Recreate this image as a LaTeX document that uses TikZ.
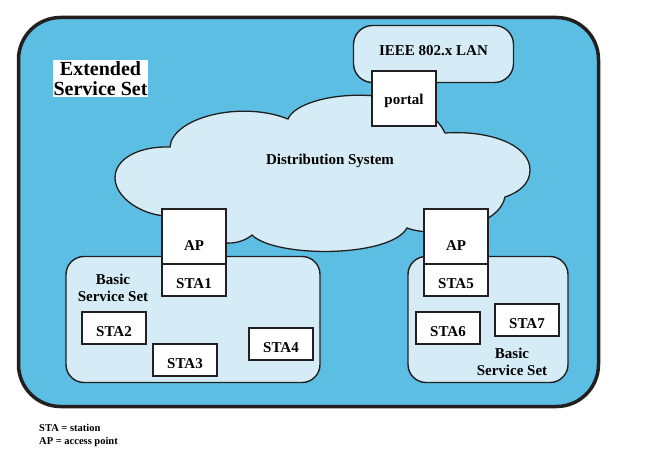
\documentclass[tikz,border=0pt]{standalone}
\usepackage{fontspec}
\setmainfont{Liberation Serif}
\usetikzlibrary{positioning}
\definecolor{essblue}{RGB}{91,190,226}
\definecolor{dsblue}{RGB}{213,236,246}
\definecolor{edgegray}{RGB}{35,31,32}
\newcommand{\lblfont}{\bfseries\fontsize{15}{17}\selectfont}
\tikzset{
    %Define style for the extended set
    essbox/.style={
           rectangle,
           rounded corners=42pt,
           draw=edgegray, line width=3.5pt,
           fill=essblue,
           minimum width=580pt,
           minimum height=389pt},
    %Define style for the basic sets
    bss/.style={
           rectangle,
           rounded corners=18pt,
           draw=edgegray, line width=1.4pt,
           fill=dsblue,
           minimum height=126pt},
    %Define style for boxes
    stabox/.style={
           rectangle,
           draw=edgegray, line width=1.4pt,
           fill=white,
           inner sep=0pt, outer sep=0pt,
           minimum width=64pt,
           minimum height=32pt,
           text height=16pt, text depth=0pt,
           font=\lblfont,
           text centered},
    apbox/.style={
           stabox,
           minimum height=55pt,
           text height=29pt},
    % Define style for the cloud
    dsline/.style={
           draw=edgegray, line width=1.3pt,
           fill=dsblue}
}
\begin{document}
\begin{tikzpicture}[x=1pt,y=-1pt,node distance=0pt,
    setlabel/.style={align=center, font=\lblfont}]
\useasboundingbox (0,0) rectangle (650,454);
\node[essbox](ess) at (308.5,212){};
\node[fill=white, inner xsep=0.5pt, inner ysep=1pt, align=center,
      font=\bfseries\fontsize{20}{20}\selectfont](esslabel) at (100.5,78.5){Extended\\Service Set};
\node[bss, rounded corners=19pt, minimum width=160pt, minimum height=57pt,
      text height=4pt, text depth=0pt, font=\lblfont](lan) at (433.5,54){IEEE 802.x LAN};
% distribution system cloud
\draw[dsline] (185,215)
    .. controls (150,222) and (115,200) .. (115,178)
    .. controls (115,158) and (140,146) .. (170,147)
    .. controls (172,118) and (240,100) .. (288,119)
    .. controls (300,90) and (420,80) .. (445,133)
    .. controls (490,130) and (530,145) .. (530,170)
    .. controls (530,183) and (520,192) .. (505,197)
    .. controls (500,225) and (440,240) .. (407,228)
    .. controls (390,258) and (275,258) .. (252,235)
    .. controls (235,250) and (195,245) .. (185,215) -- cycle;
\node[font=\lblfont](ds) at (330,161){Distribution System};
\node[stabox, minimum height=55pt, text height=13pt](portal) at (404,98.5){portal};
\node[bss, minimum width=254pt](bssL) at (193,319.5){};
\node[bss, minimum width=160pt](bssR) at (488,319.5){};
\node[setlabel](bssLlabel) at (113,288){Basic\\Service Set};
\node[setlabel](bssRlabel) at (512,361.5){Basic\\Service Set};
\node[apbox](apL) at (194,236.5){AP};
\node[stabox, below=of apL](sta1){STA1};
\node[stabox](sta2) at (114,328){STA2};
\node[stabox](sta3) at (185,360){STA3};
\node[stabox](sta4) at (281,344){STA4};
\node[apbox](apR) at (456,236.5){AP};
\node[stabox, below=of apR](sta5){STA5};
\node[stabox](sta6) at (448,328){STA6};
\node[stabox](sta7) at (527,320){STA7};
\node[anchor=west, align=left, inner sep=0pt,
      font=\bfseries\fontsize{10.5}{12.5}\selectfont](legend) at (39,435.5){STA = station\\AP = access point};
\end{tikzpicture}
\end{document}
